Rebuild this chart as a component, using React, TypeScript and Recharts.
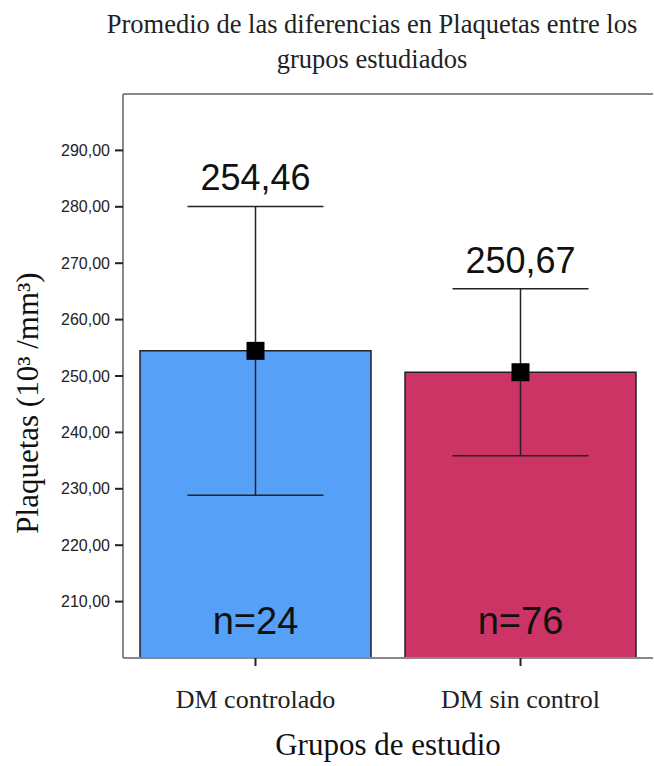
import React from 'react';
import {
  ComposedChart,
  Bar,
  Cell,
  ErrorBar,
  Scatter,
  XAxis,
  YAxis,
  LabelList,
  Label,
  ReferenceLine,
} from 'recharts';

const groups = ['DM controlado', 'DM sin control'];
const means = [254.46, 250.67];
const errors = [25.6, 14.8];
const counts = [24, 76];
const barColors = ['#57a0f7', '#cb3465'];
const yTicks = [210, 220, 230, 240, 250, 260, 270, 280, 290];
const yDomain: [number, number] = [200, 300];

const data = groups.map((g, i) => ({ group: g, mean: means[i], err: errors[i], n: counts[i] }));

const fmt = (v: number) => v.toFixed(2).replace('.', ',');

const serif = '"Liberation Serif", "Times New Roman", serif';
const sans = '"Liberation Sans", Arial, sans-serif';

const SquareMarker = (props: any) => {
  const { cx, cy } = props;
  return <rect x={cx - 9} y={cy - 9} width={18} height={18} fill="#000" />;
};

// mean value above the upper whisker
const MeanLabel = (props: any) => {
  const { x, y, width, height, value, index } = props;
  const pxPerUnit = height / (value - yDomain[0]);
  const capY = y - errors[index] * pxPerUnit;
  return (
    <text x={x + width / 2} y={capY - 16} textAnchor="middle" fontFamily={sans} fontSize={36} fill="#111">
      {fmt(value)}
    </text>
  );
};

const CountLabel = (props: any) => {
  const { x, y, width, height, value } = props;
  return (
    <text x={x + width / 2} y={y + height - 24} textAnchor="middle" fontFamily={sans} fontSize={38} fill="#111">
      {'n=' + value}
    </text>
  );
};

const YTitle = (props: any) => {
  const { viewBox } = props;
  const cx = 38;
  const cy = viewBox.y + viewBox.height / 2 + 27;
  return (
    <text
      x={cx}
      y={cy}
      transform={`rotate(-90, ${cx}, ${cy})`}
      textAnchor="middle"
      fontFamily={serif}
      fontSize={31}
      fill="#111"
    >
      Plaquetas (10³ /mm³)
    </text>
  );
};

export default function App() {
  return (
    <div style={{ position: 'absolute', left: 0, top: 0, width: 654, height: 766, background: '#fff' }}>
      <div
        style={{
          position: 'absolute',
          left: 72,
          top: 7,
          width: 600,
          textAlign: 'center',
          fontFamily: serif,
          fontSize: 26.5,
          lineHeight: '35px',
          color: '#222',
        }}
      >
        Promedio de las diferencias en Plaquetas entre los
        <br />
        grupos estudiados
      </div>
      <ComposedChart
        width={654}
        height={766}
        data={data}
        margin={{ top: 94, right: 1, bottom: 0, left: 0 }}
        barCategoryGap={17}
      >
        <XAxis
          dataKey="group"
          height={108}
          tickSize={8}
          tickMargin={24}
          tickLine={{ stroke: '#222', strokeWidth: 2 }}
          axisLine={{ stroke: '#888', strokeWidth: 2 }}
          tick={{ fontFamily: serif, fontSize: 26, fill: '#222' }}
        >
          <Label
            value="Grupos de estudio"
            position="insideBottom"
            offset={11}
            style={{ fontFamily: serif, fontSize: 31, fill: '#111' }}
          />
        </XAxis>
        <YAxis
          width={123}
          domain={yDomain}
          ticks={yTicks}
          tickFormatter={fmt}
          tickSize={8}
          tickMargin={5}
          tickLine={{ stroke: '#222', strokeWidth: 2 }}
          axisLine={{ stroke: '#888', strokeWidth: 2 }}
          tick={{ fontFamily: sans, fontSize: 16, fill: '#222' }}
          allowDataOverflow
        >
          <Label content={<YTitle />} />
        </YAxis>
        <ReferenceLine y={300} stroke="#888" strokeWidth={2} />
        <Bar dataKey="mean" stroke="#222" strokeWidth={1.5} isAnimationActive={false}>
          {data.map((d, i) => (
            <Cell key={d.group} fill={barColors[i]} />
          ))}
          <ErrorBar dataKey="err" width={68} stroke="#222" strokeWidth={1.5} />
          <LabelList dataKey="mean" content={<MeanLabel />} />
          <LabelList dataKey="n" content={<CountLabel />} />
        </Bar>
        <Scatter dataKey="mean" shape={<SquareMarker />} isAnimationActive={false} />
      </ComposedChart>
    </div>
  );
}
